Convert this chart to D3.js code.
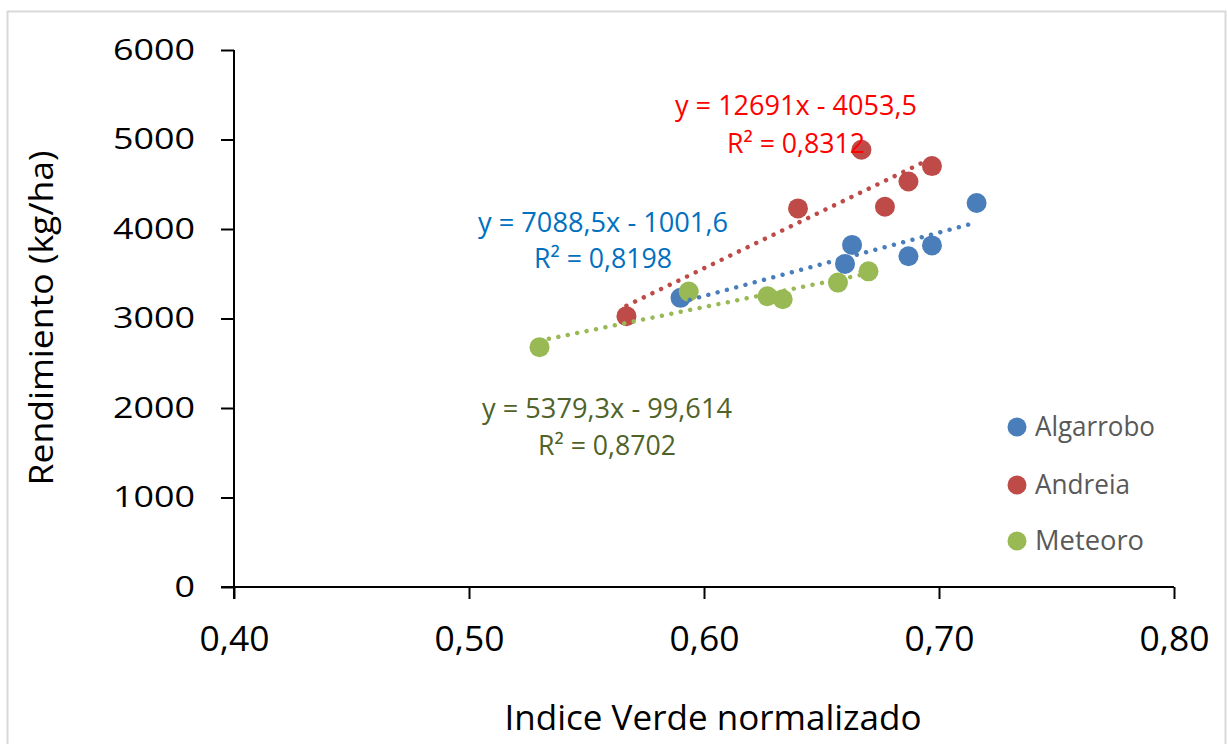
<!DOCTYPE html>
<html><head><meta charset="utf-8">
<script src="https://cdn.jsdelivr.net/npm/d3@7"></script>
<style>html,body{margin:0;padding:0;background:#fff;}svg{display:block;}</style>
</head><body>
<script>
// ---- data ----
const seriesNames = ["Algarrobo", "Andreia", "Meteoro"];
const algarroboX = [0.590, 0.663, 0.660, 0.687, 0.697, 0.716];
const algarroboY = [3231, 3822, 3610, 3695, 3817, 4290];
const andreiaX = [0.567, 0.640, 0.667, 0.677, 0.687, 0.697];
const andreiaY = [3026, 4230, 4885, 4249, 4531, 4703];
const meteoroX = [0.530, 0.5935, 0.627, 0.6335, 0.657, 0.670];
const meteoroY = [2680, 3301, 3249, 3215, 3401, 3527];
const trendSlope = [7088.5, 12691, 5379.3];
const trendIntercept = [-1001.6, -4053.5, -99.614];
const eqLabels = ["y = 7088,5x - 1001,6", "y = 12691x - 4053,5", "y = 5379,3x - 99,614"];
const r2Labels = ["R² = 0,8198", "R² = 0,8312", "R² = 0,8702"];
const xTicks = [0.40, 0.50, 0.60, 0.70, 0.80];
const xTickLabels = ["0,40", "0,50", "0,60", "0,70", "0,80"];
const yTicks = [0, 1000, 2000, 3000, 4000, 5000, 6000];
const xTitle = "Indice Verde normalizado";
const yTitle = "Rendimiento (kg/ha)";

// ---- styles ----
const markerColors = ["#4a7ebb", "#be4b48", "#98b954"];
const eqColors = ["#0070c0", "#ff0000", "#4f6228"];
const eqPos = [[603, 232, 268], [796, 115, 153], [607, 418, 455]];
const legendWidths = [120, 95, 109];
const FONT = "'Open Sans', 'Liberation Sans', Arial, sans-serif";

const W = 1227, H = 744;
const svg = d3.select("body").append("svg").attr("width", W).attr("height", H);

svg.append("rect").attr("x", 7.5).attr("y", 11.5).attr("width", 1218).attr("height", 740)
  .attr("fill", "#fff").attr("stroke", "#d9d9d9").attr("stroke-width", 2);

const x = d3.scaleLinear().domain([0.4, 0.8]).range([234, 1174]);
const y = d3.scaleLinear().domain([0, 6000]).range([587, 50]);

// axes
const xAxis = svg.append("g").attr("transform", `translate(0,${y(0)})`)
  .call(d3.axisBottom(x).tickValues(xTicks).tickFormat((d, i) => xTickLabels[i]).tickSizeOuter(0).tickSize(12).tickPadding(0));
xAxis.select(".domain").attr("stroke", "#000").attr("stroke-width", 2).attr("d", `M${x(0.4) - 13},0H${x(0.8)}`);
xAxis.selectAll(".tick line").attr("stroke", "#000").attr("stroke-width", 2);
xAxis.selectAll(".tick text").attr("font-family", FONT).attr("font-size", 35).attr("fill", "#000")
  .attr("dy", null).attr("y", 64).attr("textLength", 70).attr("lengthAdjust", "spacingAndGlyphs");

const yAxis = svg.append("g").attr("transform", `translate(${x(0.4)},0)`)
  .call(d3.axisLeft(y).tickValues(yTicks).tickFormat(d3.format("d")).tickSizeOuter(0).tickSize(13).tickPadding(0));
yAxis.select(".domain").attr("stroke", "#000").attr("stroke-width", 2).attr("d", `M0,${y(6000)}V${y(0) + 12}`);
yAxis.selectAll(".tick line").attr("stroke", "#000").attr("stroke-width", 2);
yAxis.selectAll(".tick text").attr("font-family", FONT).attr("font-size", 29).attr("fill", "#000")
  .attr("dy", null).attr("y", 9).attr("x", -39)
  .attr("textLength", d => String(d).length * 20.5).attr("lengthAdjust", "spacingAndGlyphs");

// titles
svg.append("text").attr("x", 713).attr("y", 730).attr("text-anchor", "middle")
  .attr("font-family", FONT).attr("font-size", 35).attr("fill", "#000")
  .attr("textLength", 417).attr("lengthAdjust", "spacingAndGlyphs").text(xTitle);
svg.append("text").attr("transform", "translate(53,318) rotate(-90)").attr("text-anchor", "middle")
  .attr("font-family", FONT).attr("font-size", 32).attr("fill", "#000")
  .attr("textLength", 335).attr("lengthAdjust", "spacingAndGlyphs").text(yTitle);

// series
const seriesX = [algarroboX, andreiaX, meteoroX];
const seriesY = [algarroboY, andreiaY, meteoroY];
const series = seriesNames.map((n, i) => ({
  name: n, i, pts: seriesX[i].map((v, j) => ({x: v, y: seriesY[i][j]}))
}));

// markers
series.forEach(s => {
  svg.append("g").selectAll("circle").data(s.pts).join("circle")
    .attr("cx", d => x(d.x)).attr("cy", d => y(d.y)).attr("r", 10)
    .attr("fill", markerColors[s.i]);
});

// trend lines
const line = d3.line().x(d => x(d[0])).y(d => y(d[1]));
series.forEach(s => {
  const ext = d3.extent(s.pts, d => d.x);
  const pts = ext.map(v => [v, trendSlope[s.i] * v + trendIntercept[s.i]]);
  svg.append("path").attr("d", line(pts)).attr("fill", "none")
    .attr("stroke", markerColors[s.i]).attr("stroke-width", 4.5)
    .attr("stroke-linecap", "round").attr("stroke-dasharray", "0.01 9.6");
});

// equation labels
series.forEach(s => {
  const p = eqPos[s.i];
  svg.append("text").attr("x", p[0]).attr("y", p[1]).attr("text-anchor", "middle")
    .attr("font-family", FONT).attr("font-size", 27).attr("fill", eqColors[s.i])
    .attr("textLength", s.i === 1 ? 242 : 250).attr("lengthAdjust", "spacingAndGlyphs").text(eqLabels[s.i]);
  svg.append("text").attr("x", p[0]).attr("y", p[2]).attr("text-anchor", "middle")
    .attr("font-family", FONT).attr("font-size", 27).attr("fill", eqColors[s.i])
    .attr("textLength", 138).attr("lengthAdjust", "spacingAndGlyphs").text(r2Labels[s.i]);
});

// legend
const legendY = [427, 485, 541];
const lg = svg.append("g");
seriesNames.forEach((n, i) => {
  lg.append("circle").attr("cx", 1017).attr("cy", legendY[i]).attr("r", 9.5).attr("fill", markerColors[i]);
  lg.append("text").attr("x", 1035).attr("y", legendY[i] + 9).attr("font-family", FONT)
    .attr("font-size", 27).attr("fill", "#595959")
    .attr("textLength", legendWidths[i]).attr("lengthAdjust", "spacingAndGlyphs").text(n);
});
</script>
</body></html>
